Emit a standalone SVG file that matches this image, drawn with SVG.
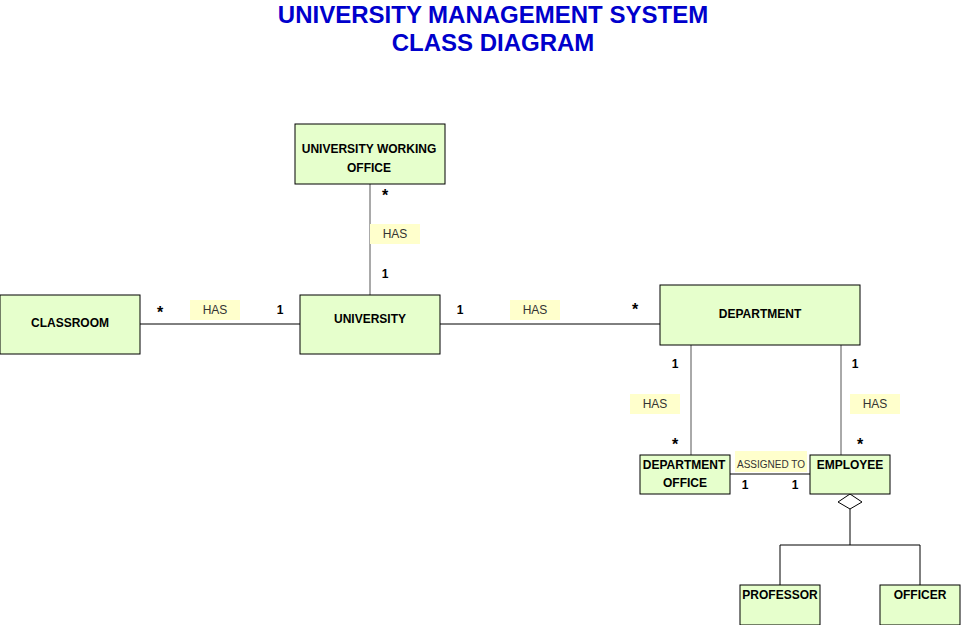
<svg xmlns="http://www.w3.org/2000/svg" width="961" height="625" viewBox="0 0 961 625">
<style>
.box{fill:#e6ffcc;stroke:#000;stroke-width:1}
.nt{font-family:"Liberation Sans",Arial,sans-serif;font-size:12px;font-weight:bold;fill:#000;text-anchor:middle}
.lbl{fill:#ffffcc;stroke:none}
.lt{font-family:"Liberation Sans",Arial,sans-serif;font-size:12px;fill:#333;text-anchor:middle}
.mt{font-family:"Liberation Sans",Arial,sans-serif;font-size:12px;font-weight:bold;fill:#000;text-anchor:middle}
.ln{stroke:#000;stroke-width:1;fill:none}
.lg{stroke:#555;stroke-width:1;fill:none}
.title{font-family:"Liberation Sans",Arial,sans-serif;font-size:24px;font-weight:bold;fill:#0000cc;text-anchor:middle}
</style>
<rect width="961" height="625" fill="#fff"/>
<text class="title" x="493" y="23">UNIVERSITY MANAGEMENT SYSTEM</text>
<text class="title" x="493" y="51">CLASS DIAGRAM</text>
<g id="connectors">
<line class="lg" x1="370" y1="184" x2="370" y2="295"/>
<line class="ln" x1="140" y1="324" x2="300" y2="324"/>
<line class="ln" x1="440" y1="324" x2="660" y2="324"/>
<line class="lg" x1="691" y1="345" x2="691" y2="455"/>
<line class="lg" x1="841" y1="345" x2="841" y2="455"/>
<line class="ln" x1="730" y1="474" x2="810" y2="474"/>
<path class="ln" d="M850 494 L862 502 L850 509 L838 502 Z" fill="#fff"/>
<line class="ln" x1="850" y1="509" x2="850" y2="545"/>
<polyline class="ln" points="780,585 780,545 920,545 920,585"/>
<rect class="lbl" x="370" y="224" width="50" height="20"/>
<text class="lt" x="395" y="238">HAS</text>
<rect class="lbl" x="190" y="300" width="50" height="20"/>
<text class="lt" x="215" y="314">HAS</text>
<rect class="lbl" x="510" y="300" width="50" height="20"/>
<text class="lt" x="535" y="314">HAS</text>
<rect class="lbl" x="630" y="394" width="50" height="20"/>
<text class="lt" x="655" y="408">HAS</text>
<rect class="lbl" x="850" y="394" width="50" height="20"/>
<text class="lt" x="875" y="408">HAS</text>
<rect class="lbl" x="735" y="451" width="72" height="21"/>
<text class="lt" x="771" y="468" style="font-size:10px">ASSIGNED TO</text>
<text class="mt" x="385" y="201" style="font-size:16px">*</text>
<text class="mt" x="385" y="278">1</text>
<text class="mt" x="160" y="318" style="font-size:16px">*</text>
<text class="mt" x="280" y="314">1</text>
<text class="mt" x="460" y="314">1</text>
<text class="mt" x="635" y="315" style="font-size:16px">*</text>
<text class="mt" x="675" y="368">1</text>
<text class="mt" x="855" y="368">1</text>
<text class="mt" x="675" y="450" style="font-size:16px">*</text>
<text class="mt" x="860" y="450" style="font-size:16px">*</text>
<text class="mt" x="745" y="489">1</text>
<text class="mt" x="795" y="489">1</text>
</g>
<g id="uwo"><rect class="box" x="295" y="124" width="150" height="60"/><text class="nt" x="369" y="153">UNIVERSITY WORKING</text><text class="nt" x="369" y="172">OFFICE</text></g>
<g id="classroom"><rect class="box" x="0" y="295" width="140" height="59"/><text class="nt" x="70" y="327">CLASSROOM</text></g>
<g id="university"><rect class="box" x="300" y="295" width="140" height="59"/><text class="nt" x="370" y="323">UNIVERSITY</text></g>
<g id="department"><rect class="box" x="660" y="285" width="200" height="60"/><text class="nt" x="760" y="318">DEPARTMENT</text></g>
<g id="deptoffice"><rect class="box" x="640" y="455" width="90" height="39"/><text class="nt" x="684" y="469">DEPARTMENT</text><text class="nt" x="685" y="487">OFFICE</text></g>
<g id="employee"><rect class="box" x="810" y="455" width="80" height="39"/><text class="nt" x="850" y="469">EMPLOYEE</text></g>
<g id="professor"><rect class="box" x="740" y="585" width="80" height="40"/><text class="nt" x="780" y="599">PROFESSOR</text></g>
<g id="officer"><rect class="box" x="880" y="585" width="80" height="40"/><text class="nt" x="920" y="599">OFFICER</text></g>
</svg>
